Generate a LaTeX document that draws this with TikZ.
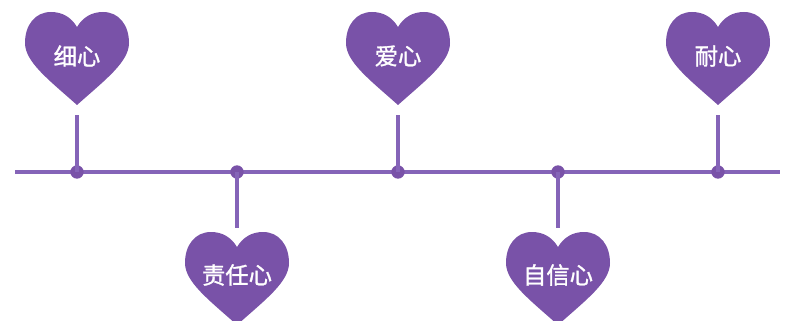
\documentclass[tikz,border=0pt]{standalone}
\usepackage{fontspec}
\newfontfamily\cjk[FakeBold=1.2]{Noto Sans CJK SC}
\definecolor{hp}{RGB}{121,82,168}
\definecolor{lp}{RGB}{133,100,184}
\tikzset{
  heartfill/.style={fill=hp},
  lbl/.style={text=white,font=\cjk\fontsize{17.5}{17.5}\selectfont,inner sep=0pt},
  dotnode/.style={circle,fill=hp,minimum size=10pt,inner sep=0pt},
  tline/.style={draw=lp,line width=2.4pt},
}
\newcommand\myheart[2]{%
  \fill[heartfill,shift={(#1,#2)}] (0,15) .. controls (-6,5) and (-15,0) .. (-26,0)
    .. controls (-42,0) and (-52,13) .. (-52,31)
    .. controls (-52,50) and (-28,68) .. (0,93)
    .. controls (28,68) and (52,50) .. (52,31)
    .. controls (52,13) and (42,0) .. (26,0)
    .. controls (15,0) and (6,5) .. (0,15) -- cycle;}
\begin{document}
\begin{tikzpicture}[x=0.75pt,y=-0.75pt]
\useasboundingbox (0,0) rectangle (793,321);
\coordinate (L) at (15,172);
\coordinate (R) at (780,172);
\draw[tline] (L) -- (R);
% hearts
\myheart{77}{12}
\myheart{398}{12}
\myheart{718}{12}
\myheart{237}{232}
\myheart{558}{232}
\node[lbl] (t1) at (77,56) {细心};
\node[lbl] (t3) at (398,56) {爱心};
\node[lbl] (t5) at (718,56) {耐心};
\node[lbl] (t2) at (237,275) {责任心};
\node[lbl] (t4) at (558,275) {自信心};
% connectors
\coordinate (c1) at (77,115);
\coordinate (c3) at (398,115);
\coordinate (c5) at (718,115);
\coordinate (c2) at (237,228);
\coordinate (c4) at (558,228);
\node[dotnode] (d1) at (77,172) {};
\node[dotnode] (d2) at (237,172) {};
\node[dotnode] (d3) at (398,172) {};
\node[dotnode] (d4) at (558,172) {};
\node[dotnode] (d5) at (718,172) {};
\draw[tline] (d1.center) -- (c1);
\draw[tline] (d3.center) -- (c3);
\draw[tline] (d5.center) -- (c5);
\draw[tline] (d2.center) -- (c2);
\draw[tline] (d4.center) -- (c4);
\end{tikzpicture}
\end{document}
